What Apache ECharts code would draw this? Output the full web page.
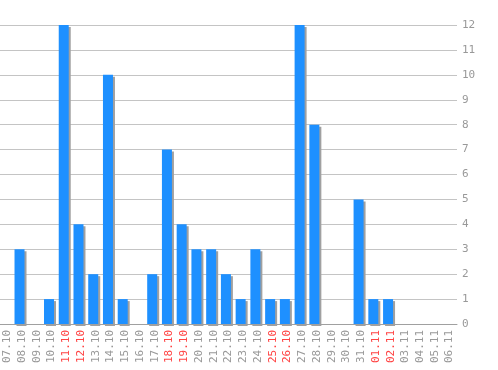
<!DOCTYPE html>
<html><head><meta charset="utf-8">
<script src="https://cdn.jsdelivr.net/npm/echarts@6/dist/echarts.min.js"></script>
<style>html,body{margin:0;padding:0;background:#fff}#c{width:498px;height:370px}</style>
</head><body><div id="c"></div>
<script>
const categories = ["07.10","08.10","09.10","10.10","11.10","12.10","13.10","14.10","15.10","16.10","17.10","18.10","19.10","20.10","21.10","22.10","23.10","24.10","25.10","26.10","27.10","28.10","29.10","30.10","31.10","01.11","02.11","03.11","04.11","05.11","06.11"];
const values = [0,3,0,1,12,4,2,10,1,0,2,7,4,3,3,2,1,3,1,1,12,8,0,0,5,1,1,0,0,0,0];
const weekendLabels = ["11.10","12.10","18.10","19.10","25.10","26.10","01.11","02.11"];
const yTicks = [0,1,2,3,4,5,6,7,8,9,10,11,12];

const chart = echarts.init(document.getElementById('c'), null, {renderer:'canvas'});
chart.setOption({
  animation:false,
  backgroundColor:'#ffffff',
  grid:{left:0, right:41, top:25, bottom:46, containLabel:false},
  xAxis:{
    type:'category', data:categories, boundaryGap:true,
    axisLine:{show:true, lineStyle:{color:'#a0a0a0', width:1}},
    axisTick:{show:false},
    axisLabel:{
      rotate:90, interval:0, margin:6,
      fontFamily:'DejaVu Sans Mono', fontSize:11,
      formatter:function(v){ return weekendLabels.indexOf(v)>=0 ? '{r|'+v+'}' : '{g|'+v+'}'; },
      rich:{
        r:{color:'#ff4444', fontFamily:'DejaVu Sans Mono', fontSize:11},
        g:{color:'#999999', fontFamily:'DejaVu Sans Mono', fontSize:11}
      }
    }
  },
  yAxis:{
    type:'value', position:'right', min:yTicks[0], max:yTicks[yTicks.length-1], interval:1,
    axisLine:{show:false}, axisTick:{show:false},
    splitLine:{show:true, lineStyle:{color:'#c4c4c4', width:1}},
    axisLabel:{color:'#999999', fontFamily:'DejaVu Sans Mono', fontSize:11, margin:5}
  },
  series:[{
    type:'bar', data:values, barWidth:10, barGap:'-48%',
    itemStyle:{color:'#1e90ff', shadowColor:'#a0a0a0', shadowOffsetX:2, shadowOffsetY:2, shadowBlur:0}
  },{
    type:'bar', data:values.map(function(){return '-';}), barWidth:10, silent:true
  }]
});
</script></body></html>
